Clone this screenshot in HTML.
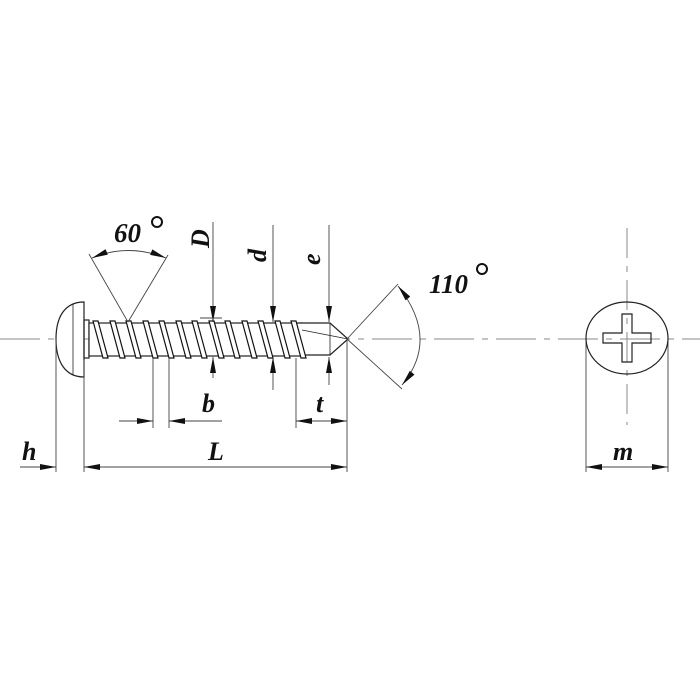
<!DOCTYPE html><html><head><style>body{margin:0;background:#fff}svg{display:block}text{font-family:"Liberation Serif",serif;font-style:italic;font-weight:bold;fill:#111}</style></head><body>
<svg width="700" height="700" viewBox="0 0 700 700" xmlns="http://www.w3.org/2000/svg">
<defs><marker id="b" viewBox="0 0 16 6" refX="16" refY="3" markerWidth="16" markerHeight="6" orient="auto-start-reverse" markerUnits="userSpaceOnUse"><path d="M0,0L16,3L0,6Z" fill="#111"/></marker></defs>
<g stroke="#888" stroke-width="1" fill="none">
<line x1="0" y1="339" x2="700" y2="339" stroke-dasharray="40,8,6,8"/>
<line x1="627" y1="228" x2="627" y2="425" stroke-dasharray="30,8,6,8"/>
</g>
<g stroke="#222" stroke-width="1.2" fill="none">
<path d="M84,302 C64,302 56,318 56,339 C56,360 64,377 84,377 Z" fill="#fff"/>
<line x1="73" y1="304" x2="73" y2="375" stroke-width="0.8"/>
<rect x="84" y="320" width="5" height="38"/>
<rect x="89" y="323" width="213" height="33" fill="#fff"/>
<path d="M300,323 L330,323 L348,339 L330,355 L300,355" fill="#fff"/>
<line x1="302" y1="330" x2="348" y2="339" stroke-width="0.8"/>
<line x1="330" y1="323" x2="330" y2="355" stroke-width="0.8"/>
</g>
<g stroke="#111" stroke-width="1.2" fill="#fff">
<path d="M93,321 l5,0 l10,37 l-5,0Z"/><path d="M110,321 l5,0 l10,37 l-5,0Z"/><path d="M126,321 l5,0 l10,37 l-5,0Z"/><path d="M143,321 l5,0 l10,37 l-5,0Z"/><path d="M159,321 l5,0 l10,37 l-5,0Z"/><path d="M176,321 l5,0 l10,37 l-5,0Z"/><path d="M192,321 l5,0 l10,37 l-5,0Z"/><path d="M209,321 l5,0 l10,37 l-5,0Z"/><path d="M225,321 l5,0 l10,37 l-5,0Z"/><path d="M242,321 l5,0 l10,37 l-5,0Z"/><path d="M258,321 l5,0 l10,37 l-5,0Z"/><path d="M275,321 l5,0 l10,37 l-5,0Z"/><path d="M291,321 l5,0 l10,37 l-5,0Z"/>
</g>
<g stroke="#444" stroke-width="0.9" fill="none">
<line x1="56" y1="340" x2="56" y2="472"/><line x1="84" y1="360" x2="84" y2="472"/><line x1="347" y1="340" x2="347" y2="472"/>
<line x1="153" y1="358" x2="153" y2="428"/><line x1="169" y1="358" x2="169" y2="428"/><line x1="296" y1="358" x2="296" y2="428"/>
<line x1="586" y1="340" x2="586" y2="472"/><line x1="668" y1="340" x2="668" y2="472"/>
<line x1="128" y1="322" x2="89" y2="254"/><line x1="128" y1="322" x2="168" y2="255"/>
<path d="M92,258 Q128,243 166,258" marker-start="url(#b)" marker-end="url(#b)"/>
<line x1="347" y1="339" x2="398" y2="284"/><line x1="347" y1="339" x2="402" y2="389"/>
<path d="M398,286 Q440,339 402,385" marker-start="url(#b)" marker-end="url(#b)"/>
<line x1="213" y1="222" x2="213" y2="322" marker-end="url(#b)"/><line x1="213" y1="378" x2="213" y2="357" marker-end="url(#b)"/><line x1="200" y1="318" x2="222" y2="318"/>
<line x1="273" y1="225" x2="273" y2="322" marker-end="url(#b)"/><line x1="273" y1="390" x2="273" y2="357" marker-end="url(#b)"/>
<line x1="329" y1="225" x2="329" y2="322" marker-end="url(#b)"/><line x1="329" y1="385" x2="329" y2="357" marker-end="url(#b)"/>
<line x1="119" y1="421" x2="153" y2="421" marker-end="url(#b)"/><line x1="222" y1="421" x2="169" y2="421" marker-end="url(#b)"/>
<line x1="296" y1="421" x2="347" y2="421" marker-start="url(#b)" marker-end="url(#b)"/>
<line x1="20" y1="467" x2="56" y2="467" marker-end="url(#b)"/>
<line x1="84" y1="467" x2="347" y2="467" marker-start="url(#b)" marker-end="url(#b)"/>
<line x1="586" y1="467" x2="668" y2="467" marker-start="url(#b)" marker-end="url(#b)"/>
</g>
<g stroke="#222" stroke-width="1.2" fill="none">
<ellipse cx="627" cy="338" rx="41" ry="36"/>
<path d="M622,314 h10 v19 h19 v10 h-19 v19 h-10 v-19 h-19 v-10 h19 Z"/>
</g>
<g stroke="#111" stroke-width="2" fill="none"><circle cx="157" cy="222" r="5"/><circle cx="482" cy="269" r="5"/></g>
<text x="114" y="242" font-size="27">60</text>
<text x="429" y="293" font-size="27">110</text>
<text transform="translate(209,248) rotate(-90)" font-size="26">D</text>
<text transform="translate(266,262) rotate(-90)" font-size="26">d</text>
<text transform="translate(320,265) rotate(-90)" font-size="26">e</text>
<text x="202" y="412" font-size="26">b</text>
<text x="316" y="412" font-size="26">t</text>
<text x="22" y="460" font-size="26">h</text>
<text x="208" y="460" font-size="26">L</text>
<text x="613" y="460" font-size="26">m</text>
</svg></body></html>
